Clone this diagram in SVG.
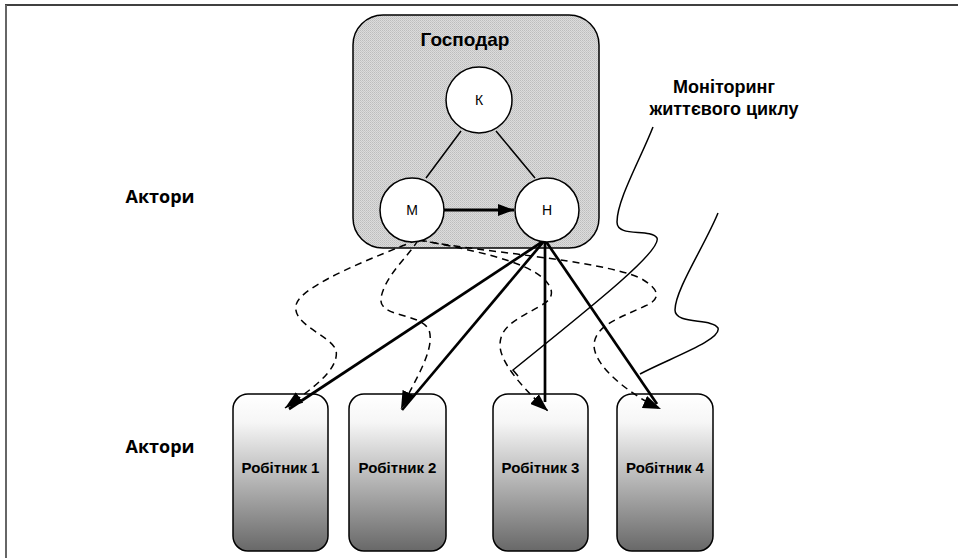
<svg xmlns="http://www.w3.org/2000/svg" width="958" height="558" viewBox="0 0 958 558">
<style>
  .lbl { font-family: "Liberation Sans", Arial, sans-serif; font-weight: bold; fill: #000; text-anchor: middle; }
  .act { font-family: "Open Sans", "Liberation Sans", sans-serif; font-weight: bold; font-size: 18px; fill: #000; text-anchor: middle; }
  .circ { fill: #fff; stroke: #000; stroke-width: 1.5; }
  .ctxt { font-family: "Liberation Sans", Arial, sans-serif; font-size: 14px; fill: #000; text-anchor: middle; }
  .worker { fill: url(#wgrad); stroke: #000; stroke-width: 1.5; }
  .solid { fill: none; stroke: #000; stroke-width: 2.7; }
  .dash { fill: none; stroke: #000; stroke-width: 1.5; stroke-dasharray: 7 5; marker-end: url(#ah); }
  .mon { fill: none; stroke: #000; stroke-width: 1.5; }
</style>
<defs>
  <linearGradient id="wgrad" x1="0" y1="0" x2="0" y2="1">
    <stop offset="0" stop-color="#ffffff"/>
    <stop offset="0.18" stop-color="#f6f6f6"/>
    <stop offset="1" stop-color="#686868"/>
  </linearGradient>
  <pattern id="stip" width="2" height="2" patternUnits="userSpaceOnUse">
    <rect width="2" height="2" fill="#dcdcdc"/>
    <rect width="1" height="1" fill="#bdbdbd"/>
    <rect x="1" y="1" width="1" height="1" fill="#c8c8c8"/>
  </pattern>
  <marker id="ah" viewBox="0 0 18 13" refX="18" refY="6.5" markerWidth="18" markerHeight="13" markerUnits="userSpaceOnUse" orient="auto">
    <path d="M0,0 L18,6.5 L0,13 z" fill="#000"/>
  </marker>
  <marker id="ah2" viewBox="0 0 16 12" refX="16" refY="6" markerWidth="16" markerHeight="12" markerUnits="userSpaceOnUse" orient="auto">
    <path d="M0,0 L16,6 L0,12 z" fill="#000"/>
  </marker>
</defs>
<rect width="958" height="558" fill="#fff"/>
<g id="frame">
  <line x1="5" y1="5" x2="958" y2="5" stroke="#000" stroke-width="1.5"/>
  <line x1="6" y1="5" x2="6" y2="558" stroke="#666" stroke-width="2"/>
</g>
<g id="master">
  <rect x="353" y="15" width="246" height="233" rx="30" ry="30" fill="url(#stip)" stroke="#000" stroke-width="1.5"/>
  <text class="lbl" x="465" y="46" font-size="19">Господар</text>
</g>
<g id="worker1">
  <rect class="worker" x="233" y="394" width="95" height="157" rx="15" ry="15"/>
  <text class="lbl" x="280.5" y="473" font-size="15">Робітник 1</text>
</g>
<g id="worker2">
  <rect class="worker" x="349" y="394" width="97" height="157" rx="15" ry="15"/>
  <text class="lbl" x="397.5" y="473" font-size="15">Робітник 2</text>
</g>
<g id="worker3">
  <rect class="worker" x="493" y="394" width="95" height="157" rx="15" ry="15"/>
  <text class="lbl" x="540.5" y="473" font-size="15">Робітник 3</text>
</g>
<g id="worker4">
  <rect class="worker" x="617" y="394" width="96" height="157" rx="15" ry="15"/>
  <text class="lbl" x="665" y="473" font-size="15">Робітник 4</text>
</g>
<g id="connectors">
  <line x1="461" y1="131" x2="426" y2="178" stroke="#000" stroke-width="1.5"/>
  <line x1="496" y1="131" x2="535" y2="178" stroke="#000" stroke-width="1.5"/>
  <line x1="444" y1="210" x2="514" y2="210" stroke="#000" stroke-width="3" marker-end="url(#ah2)"/>
  <path class="solid" d="M545 240 L289 409"/>
  <path class="solid" d="M545 240 L402 410"/>
  <path class="solid" d="M545 240 L545 402"/>
  <path class="solid" d="M545 240 L657 404"/>
  <path class="dash" d="M417 240 C380 255, 300 285, 296 305 C292 325, 330 335, 336 350 C340 370, 310 390, 285 408"/>
  <path class="dash" d="M418 240 C410 255, 385 275, 381 298 C378 318, 420 312, 429 330 C436 350, 412 385, 401 409"/>
  <path class="dash" d="M420 240 C470 250, 525 260, 545 280 C556 292, 552 300, 540 306 C520 318, 500 325, 500 345 C500 365, 530 395, 548 411"/>
  <path class="dash" d="M418 240 C480 252, 600 260, 640 278 C662 290, 660 300, 645 306 C620 318, 595 325, 594 345 C594 370, 640 400, 661 409"/>
  <path class="mon" d="M653 127 C640 160, 617 200, 617 222 C617 238, 650 228, 657 238 C662 250, 600 300, 513 370 L518 376"/>
  <path class="mon" d="M718 213 C705 245, 675 290, 675 310 C675 325, 712 318, 718 328 C722 340, 670 358, 640 374"/>
</g>
<g id="nodeK">
  <circle class="circ" cx="479" cy="100" r="33"/>
  <text class="ctxt" x="479" y="105">К</text>
</g>
<g id="nodeM">
  <circle class="circ" cx="412" cy="210" r="32"/>
  <text class="ctxt" x="412" y="215">М</text>
</g>
<g id="nodeH">
  <circle class="circ" cx="547" cy="210" r="32"/>
  <text class="ctxt" x="547" y="215">Н</text>
</g>
<g id="labels">
  <text class="act" x="160" y="203">Актори</text>
  <text class="act" x="160" y="453">Актори</text>
  <text class="lbl" x="724" y="93" font-size="18">Моніторинг</text>
  <text class="lbl" x="724" y="115" font-size="18">життєвого циклу</text>
</g>
</svg>
